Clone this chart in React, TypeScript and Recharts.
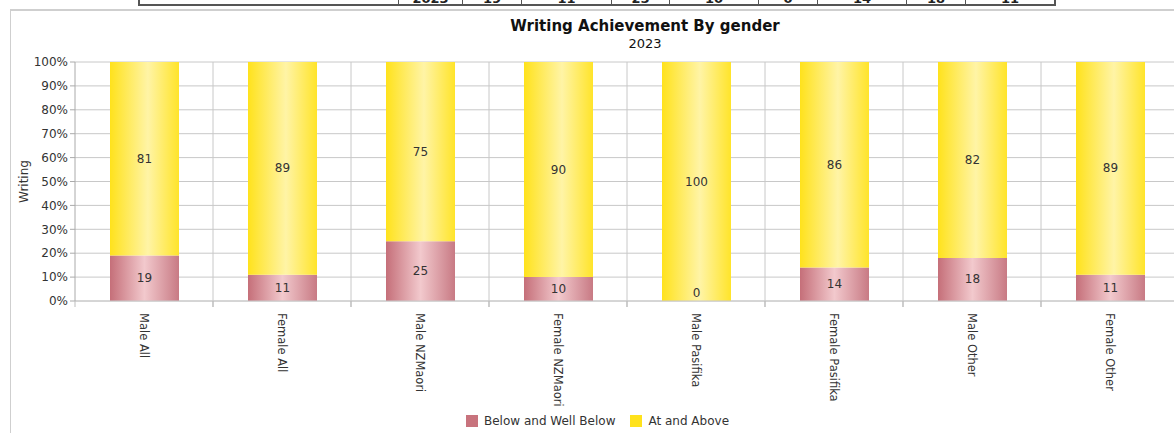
import React from 'react';
import { BarChart, Bar, XAxis, YAxis, CartesianGrid, LabelList, Label } from 'recharts';

const categories = [
  'Male All',
  'Female All',
  'Male NZMaori',
  'Female NZMaori',
  'Male Pasifika',
  'Female Pasifika',
  'Male Other',
  'Female Other',
];
const belowValues = [19, 11, 25, 10, 0, 14, 18, 11];
const aboveValues = [81, 89, 75, 90, 100, 86, 82, 89];
const yTicks = [0, 10, 20, 30, 40, 50, 60, 70, 80, 90, 100];
const tableYear = '2023';
const tableCellWidths = [59, 90, 58, 89, 59, 89, 59, 88];

const data = categories.map((name, i) => ({
  name,
  below: belowValues[i],
  above: aboveValues[i],
}));

const FONT = '"DejaVu Sans", Verdana, sans-serif';
const PLOT_W = 1104;
const BAND = PLOT_W / categories.length;

const labelText = (x: number, y: number, value: any) => (
  <text
    x={x}
    y={y}
    textAnchor="middle"
    dominantBaseline="central"
    fontSize={12}
    fontFamily={FONT}
    fill="#333"
  >
    {value}
  </text>
);

const SegmentLabel = (props: any) => {
  const { x, y, width, height, value } = props;
  if (!height) return null;
  return labelText(x + width / 2, y + height / 2, value);
};

// zero-height "below" segments: draw their label just above the baseline
const ZeroBelowLabel = (props: any) => {
  const { x, y, width, height, index } = props;
  if (belowValues[index] !== 0) return null;
  return labelText(x + width / 2, y + height - 8, belowValues[index]);
};

const CategoryTick = (props: any) => {
  const { x, y, payload } = props;
  return (
    <g>
      <line x1={x - BAND / 2} x2={x - BAND / 2} y1={y - 12} y2={y - 6} stroke="#bdbdbd" />
      <line x1={x + BAND / 2} x2={x + BAND / 2} y1={y - 12} y2={y - 6} stroke="#bdbdbd" />
      <g transform={`translate(${x},${y})`}>
        <text
          transform="rotate(90)"
          x={0}
          y={0}
          dy="0.35em"
          textAnchor="start"
          fontSize={11.5}
          fontFamily={FONT}
          fill="#333"
        >
          {payload.value}
        </text>
      </g>
    </g>
  );
};

export default function App() {
  const cellStyle = {
    boxSizing: 'border-box' as const,
    borderRight: '1px solid #555',
    textAlign: 'center' as const,
    fontSize: 13,
    fontWeight: 'bold' as const,
    lineHeight: '13px',
    paddingTop: 4,
    color: '#222',
  };
  return (
    <div
      style={{
        position: 'fixed',
        left: 0,
        top: 0,
        width: 1174,
        height: 433,
        overflow: 'hidden',
        background: '#fff',
        fontFamily: FONT,
      }}
    >
      {/* cut-off table row above the chart */}
      <div
        style={{
          position: 'absolute',
          left: 138,
          top: -12,
          height: 18,
          display: 'flex',
          border: '2px solid #555',
          borderTop: 'none',
          boxSizing: 'border-box',
          overflow: 'hidden',
        }}
      >
        <div style={{ ...cellStyle, width: 259 }} />
        <div style={{ ...cellStyle, width: 64 }}>{tableYear}</div>
        {belowValues.map((v, i) => (
          <div
            key={i}
            style={{
              ...cellStyle,
              width: tableCellWidths[i],
              borderRight: i < belowValues.length - 1 ? '1px solid #555' : 'none',
            }}
          >
            {v}
          </div>
        ))}
      </div>

      {/* chart panel border */}
      <div
        style={{
          position: 'absolute',
          left: 10,
          top: 9,
          width: 1200,
          height: 500,
          borderTop: '2px solid #cfcfcf',
          borderLeft: '1px solid #cfcfcf',
        }}
      />

      <div
        style={{
          position: 'absolute',
          left: 0,
          top: 17,
          width: 1290,
          textAlign: 'center',
          fontSize: 15,
          fontWeight: 'bold',
          color: '#111',
        }}
      >
        Writing Achievement By gender
      </div>
      <div
        style={{
          position: 'absolute',
          left: 0,
          top: 36,
          width: 1290,
          textAlign: 'center',
          fontSize: 13,
          color: '#111',
        }}
      >
        2023
      </div>

      <div style={{ position: 'absolute', left: 0, top: 0 }}>
        <BarChart
          width={1200}
          height={433}
          data={data}
          margin={{ top: 62, right: 21, left: 0, bottom: 32 }}
          barSize={69}
        >
          <defs>
            <linearGradient id="gradBelow" x1="0" y1="0" x2="1" y2="0">
              <stop offset="0%" stopColor="#c56f79" />
              <stop offset="50%" stopColor="#f2c9cd" />
              <stop offset="100%" stopColor="#c87a84" />
            </linearGradient>
            <linearGradient id="gradAbove" x1="0" y1="0" x2="1" y2="0">
              <stop offset="0%" stopColor="#ffe21c" />
              <stop offset="55%" stopColor="#fff4a6" />
              <stop offset="100%" stopColor="#ffe42a" />
            </linearGradient>
          </defs>
          <CartesianGrid
            stroke="#c8c8c8"
            verticalCoordinatesGenerator={(p: any) =>
              categories.map((_, i) => p.offset.left + (i + 1) * (p.offset.width / categories.length))
            }
          />
          <XAxis
            dataKey="name"
            tick={<CategoryTick />}
            tickLine={false}
            axisLine={{ stroke: '#c8c8c8' }}
            tickSize={0}
            tickMargin={12}
            height={100}
            interval={0}
          />
          <YAxis
            domain={[0, 100]}
            ticks={yTicks}
            tickFormatter={(v) => `${v}%`}
            width={75}
            axisLine={{ stroke: '#aaa' }}
            tickLine={{ stroke: '#aaa' }}
            tickSize={5}
            tickMargin={2}
            tick={{ fontSize: 12, fill: '#333', fontFamily: FONT }}
          >
            <Label
              content={(p: any) => {
                const vb = p.viewBox;
                const cx = 24;
                const cy = vb.y + vb.height / 2;
                return (
                  <text
                    x={cx}
                    y={cy}
                    transform={`rotate(-90, ${cx}, ${cy})`}
                    textAnchor="middle"
                    dominantBaseline="central"
                    fontSize={12}
                    fontFamily={FONT}
                    fill="#333"
                  >
                    Writing
                  </text>
                );
              }}
            />
          </YAxis>
          <Bar dataKey="below" stackId="a" fill="url(#gradBelow)" isAnimationActive={false}>
            <LabelList dataKey="below" content={<SegmentLabel />} />
          </Bar>
          <Bar dataKey="above" stackId="a" fill="url(#gradAbove)" isAnimationActive={false}>
            <LabelList dataKey="above" content={<SegmentLabel />} />
            <LabelList dataKey="below" content={<ZeroBelowLabel />} />
          </Bar>
        </BarChart>
      </div>

      {/* legend */}
      <div
        style={{
          position: 'absolute',
          left: 466,
          top: 414,
          display: 'flex',
          alignItems: 'center',
          fontSize: 12,
          color: '#333',
        }}
      >
        <span style={{ width: 12, height: 12, background: '#c8737d', display: 'inline-block', marginRight: 6 }} />
        <span style={{ marginRight: 15 }}>Below and Well Below</span>
        <span style={{ width: 12, height: 12, background: '#ffe21c', display: 'inline-block', marginRight: 6 }} />
        <span>At and Above</span>
      </div>
    </div>
  );
}
